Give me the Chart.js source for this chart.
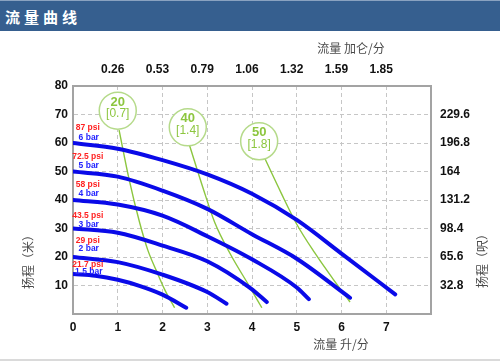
<!DOCTYPE html>
<html><head><meta charset="utf-8">
<script src="https://cdn.jsdelivr.net/npm/chart.js@4"></script>
<style>
html,body{margin:0;padding:0;background:#fff;}
#wrap{position:relative;width:500px;height:361px;overflow:hidden;background:#fff;}
#hdr{position:absolute;left:0;top:0;width:500px;height:31px;background:#365f8f;color:#fff;font-family:'Noto Sans CJK SC';font-weight:bold;font-size:15px;letter-spacing:4px;line-height:31px;padding-left:5px;box-sizing:border-box;border-top:1px solid #8aa2c0;}
#foot{position:absolute;left:0;top:359px;width:500px;height:2px;background:#dadada;}
canvas{position:absolute;left:0;top:0;}
</style></head><body>
<div id="wrap"><canvas id="c" width="500" height="361"></canvas><div id="hdr">流量曲线</div><div id="foot"></div></div>
<script>
// tick labels
const flowTicksLpm = [0,1,2,3,4,5,6,7];
const flowTicksGpm = ['0.26','0.53','0.79','1.06','1.32','1.59','1.85'];
const headTicksM = [10,20,30,40,50,60,70,80];
const headTicksFt = ['32.8','65.6','98.4','131.2','164','196.8','229.6'];

// pump curves: [flow l/min, head m]
const curve6bar  = [[0,60],[1,58],[2,54],[3,49],[4,42.2],[5,33],[6,21.2],[7.2,6.9]];
const curve5bar  = [[0,50],[1,48.2],[2,43.3],[3,36.9],[4,28],[5,19.4],[6.19,5.7]];
const curve4bar  = [[0,40],[1,38.4],[2,34.5],[3,27.3],[4,19.2],[5,9.3],[5.27,5.2]];
const curve3bar  = [[0,30],[1,28.5],[2,24],[3,18.5],[3.97,9],[4.33,4.2]];
const curve2bar  = [[0,20],[1,18.2],[2,13.8],[3,7.7],[3.43,3.6]];
const curve15bar = [[0,14],[0.5,13.4],[1,12],[1.5,9.8],[2,6.8],[2.53,2.2]];

// air consumption lines
const air20 = [[1.03,64.5],[1.25,47.5],[1.49,32],[1.67,22.5],[1.86,15.3],[2.06,8.2],[2.27,2.2]];
const air40 = [[2.6,59.4],[2.9,44.5],[3.17,32],[3.5,21.5],[3.95,9.5],[4.22,2.2]];
const air50 = [[4.28,54.8],[4.65,42.5],[5.0,31.5],[5.4,21.5],[5.8,12.5],[6.19,4.2]];

// air consumption markers
const airCircleX = [1.0, 2.565, 4.16];
const airCircleY = [71.35, 65.5, 60.6];
const airTop = ['20','40','50'];
const airBottom = ['[0.7]','[1.4]','[1.8]'];

// pressure labels
const psiLabels = ['87 psi','72.5 psi','58 psi','43.5 psi','29 psi','21.7 psi'];
const barLabels = ['6 bar','5 bar','4 bar','3 bar','2 bar','1.5 bar'];
const psiLabelY = [65.3,55.3,45.4,34.6,25.8,17.4];
const barLabelY = [62,52,42.2,31.4,23.1,15];
const pressLabelX = 0.33;

const blue = '#0a0ae8';
const green = '#8cc63f';
const gridCol = '#c6c6c6';
const borderCol = '#a3a3a3';
const tickFont = {family:'"Liberation Sans", Arial, sans-serif', size:12, weight:'bold'};

function pts(a){ return a.map(p=>({x:p[0], y:p[1]})); }

const datasets = [];
[curve6bar,curve5bar,curve4bar,curve3bar,curve2bar,curve15bar].forEach(c=>datasets.push({
  type:'line', data:pts(c), borderColor:blue, borderWidth:4, pointRadius:0,
  cubicInterpolationMode:'monotone', borderCapStyle:'round', fill:false, order:1
}));
[air20,air40,air50].forEach(c=>datasets.push({
  type:'line', data:pts(c), borderColor:green, borderWidth:1.4, pointRadius:0,
  cubicInterpolationMode:'monotone', fill:false, order:3
}));
const circleIndex = datasets.length;
datasets.push({
  type:'scatter', data:airCircleX.map((x,i)=>({x, y:airCircleY[i]})),
  pointRadius:18.5, pointHoverRadius:18.5, pointBackgroundColor:'#fff',
  pointBorderColor:'#b5da8a', pointBorderWidth:1.5, order:2
});

const textPlugin = {
  id:'txt',
  afterDatasetsDraw(chart){
    const {ctx, scales:{x, y}} = chart;
    const meta = chart.getDatasetMeta(circleIndex);
    ctx.save();
    ctx.textAlign = 'center'; ctx.textBaseline = 'middle';
    meta.data.forEach((pt,i)=>{
      ctx.fillStyle = '#8dc63f';
      ctx.font = 'bold 13px "Liberation Sans", Arial';
      ctx.fillText(airTop[i], pt.x, pt.y-8.5);
      ctx.font = '12px "Liberation Sans", Arial';
      ctx.fillText(airBottom[i], pt.x, pt.y+3.5);
    });
    ctx.font = 'bold 8.5px "Liberation Sans", Arial';
    psiLabels.forEach((t,i)=>{
      ctx.fillStyle = '#ff2222';
      ctx.fillText(t, x.getPixelForValue(pressLabelX), y.getPixelForValue(psiLabelY[i]));
      ctx.fillStyle = '#2222ff';
      ctx.fillText(barLabels[i], x.getPixelForValue(pressLabelX)+1, y.getPixelForValue(barLabelY[i]));
    });
    ctx.restore();
  },
  afterDraw(chart){
    const {ctx, chartArea:a} = chart;
    ctx.save();
    ctx.fillStyle = '#4a4a4a';
    ctx.font = '12px "Noto Sans CJK SC"';
    ctx.textAlign = 'center'; ctx.textBaseline = 'middle';
    ctx.fillText('流量 加仑/分', a.right-80, 48.5);
    ctx.fillText('流量 升/分', a.right-90, 344);
    ctx.translate(28, a.bottom-55); ctx.rotate(-Math.PI/2);
    ctx.fillText('扬程（米）', 0, 0);
    ctx.restore();
    ctx.save();
    ctx.fillStyle = '#4a4a4a';
    ctx.font = '12px "Noto Sans CJK SC"';
    ctx.textAlign = 'center'; ctx.textBaseline = 'middle';
    ctx.translate(482, a.bottom-56); ctx.rotate(-Math.PI/2);
    ctx.fillText('扬程（呎）', 0, 0);
    ctx.restore();
  }
};

new Chart(document.getElementById('c'), {
  data:{datasets},
  options:{
    responsive:false, animation:false, events:[],
    layout:{padding:0},
    plugins:{legend:{display:false}, tooltip:{enabled:false}},
    scales:{
      x:{type:'linear', position:'bottom', min:0, max:8,
        afterBuildTicks(s){ s.ticks = [0,1,2,3,4,5,6,7,8].map(v=>({value:v})); },
        ticks:{callback:v=> flowTicksLpm.includes(v)? String(v) : '', font:tickFont, color:'#111', padding:6, maxRotation:0, autoSkip:false},
        grid:{color:c=> (c.tick && (c.tick.value===0 || c.tick.value===8)) ? 'rgba(0,0,0,0)' : gridCol, drawTicks:false, lineWidth:1},
        border:{color:borderCol, width:2, dash:[4,3]},
        afterFit(s){ s.height = 47; }
      },
      x2:{type:'linear', position:'top', min:0, max:8,
        afterBuildTicks(s){ s.ticks = [1,2,3,4,5,6,7].map(v=>({value:v})); },
        ticks:{callback:v=> flowTicksGpm[v-1], font:tickFont, color:'#111', padding:9, labelOffset:-5, maxRotation:0, autoSkip:false},
        grid:{display:false, drawTicks:false},
        border:{color:borderCol, width:2},
        afterFit(s){ s.height = 86; }
      },
      y:{type:'linear', position:'left', min:0, max:80,
        afterBuildTicks(s){ s.ticks = [0, ...headTicksM].map(v=>({value:v})); },
        ticks:{callback:v=> v===0 ? '' : String(v), font:tickFont, color:'#111', padding:5, autoSkip:false},
        grid:{color:c=> (c.tick && (c.tick.value===0 || c.tick.value===80)) ? 'rgba(0,0,0,0)' : gridCol, drawTicks:false, lineWidth:1},
        border:{color:borderCol, width:2, dash:[4,3]},
        afterFit(s){ s.width = 73; }
      },
      yR:{type:'linear', position:'right', min:0, max:80,
        afterBuildTicks(s){ s.ticks = [10,20,30,40,50,60,70].map(v=>({value:v})); },
        ticks:{callback:v=> headTicksFt[v/10-1], font:tickFont, color:'#111', padding:9, autoSkip:false},
        grid:{display:false, drawTicks:false},
        border:{color:borderCol, width:2},
        afterFit(s){ s.width = 69; }
      }
    }
  },
  plugins:[textPlugin]
});
</script>
</body></html>
